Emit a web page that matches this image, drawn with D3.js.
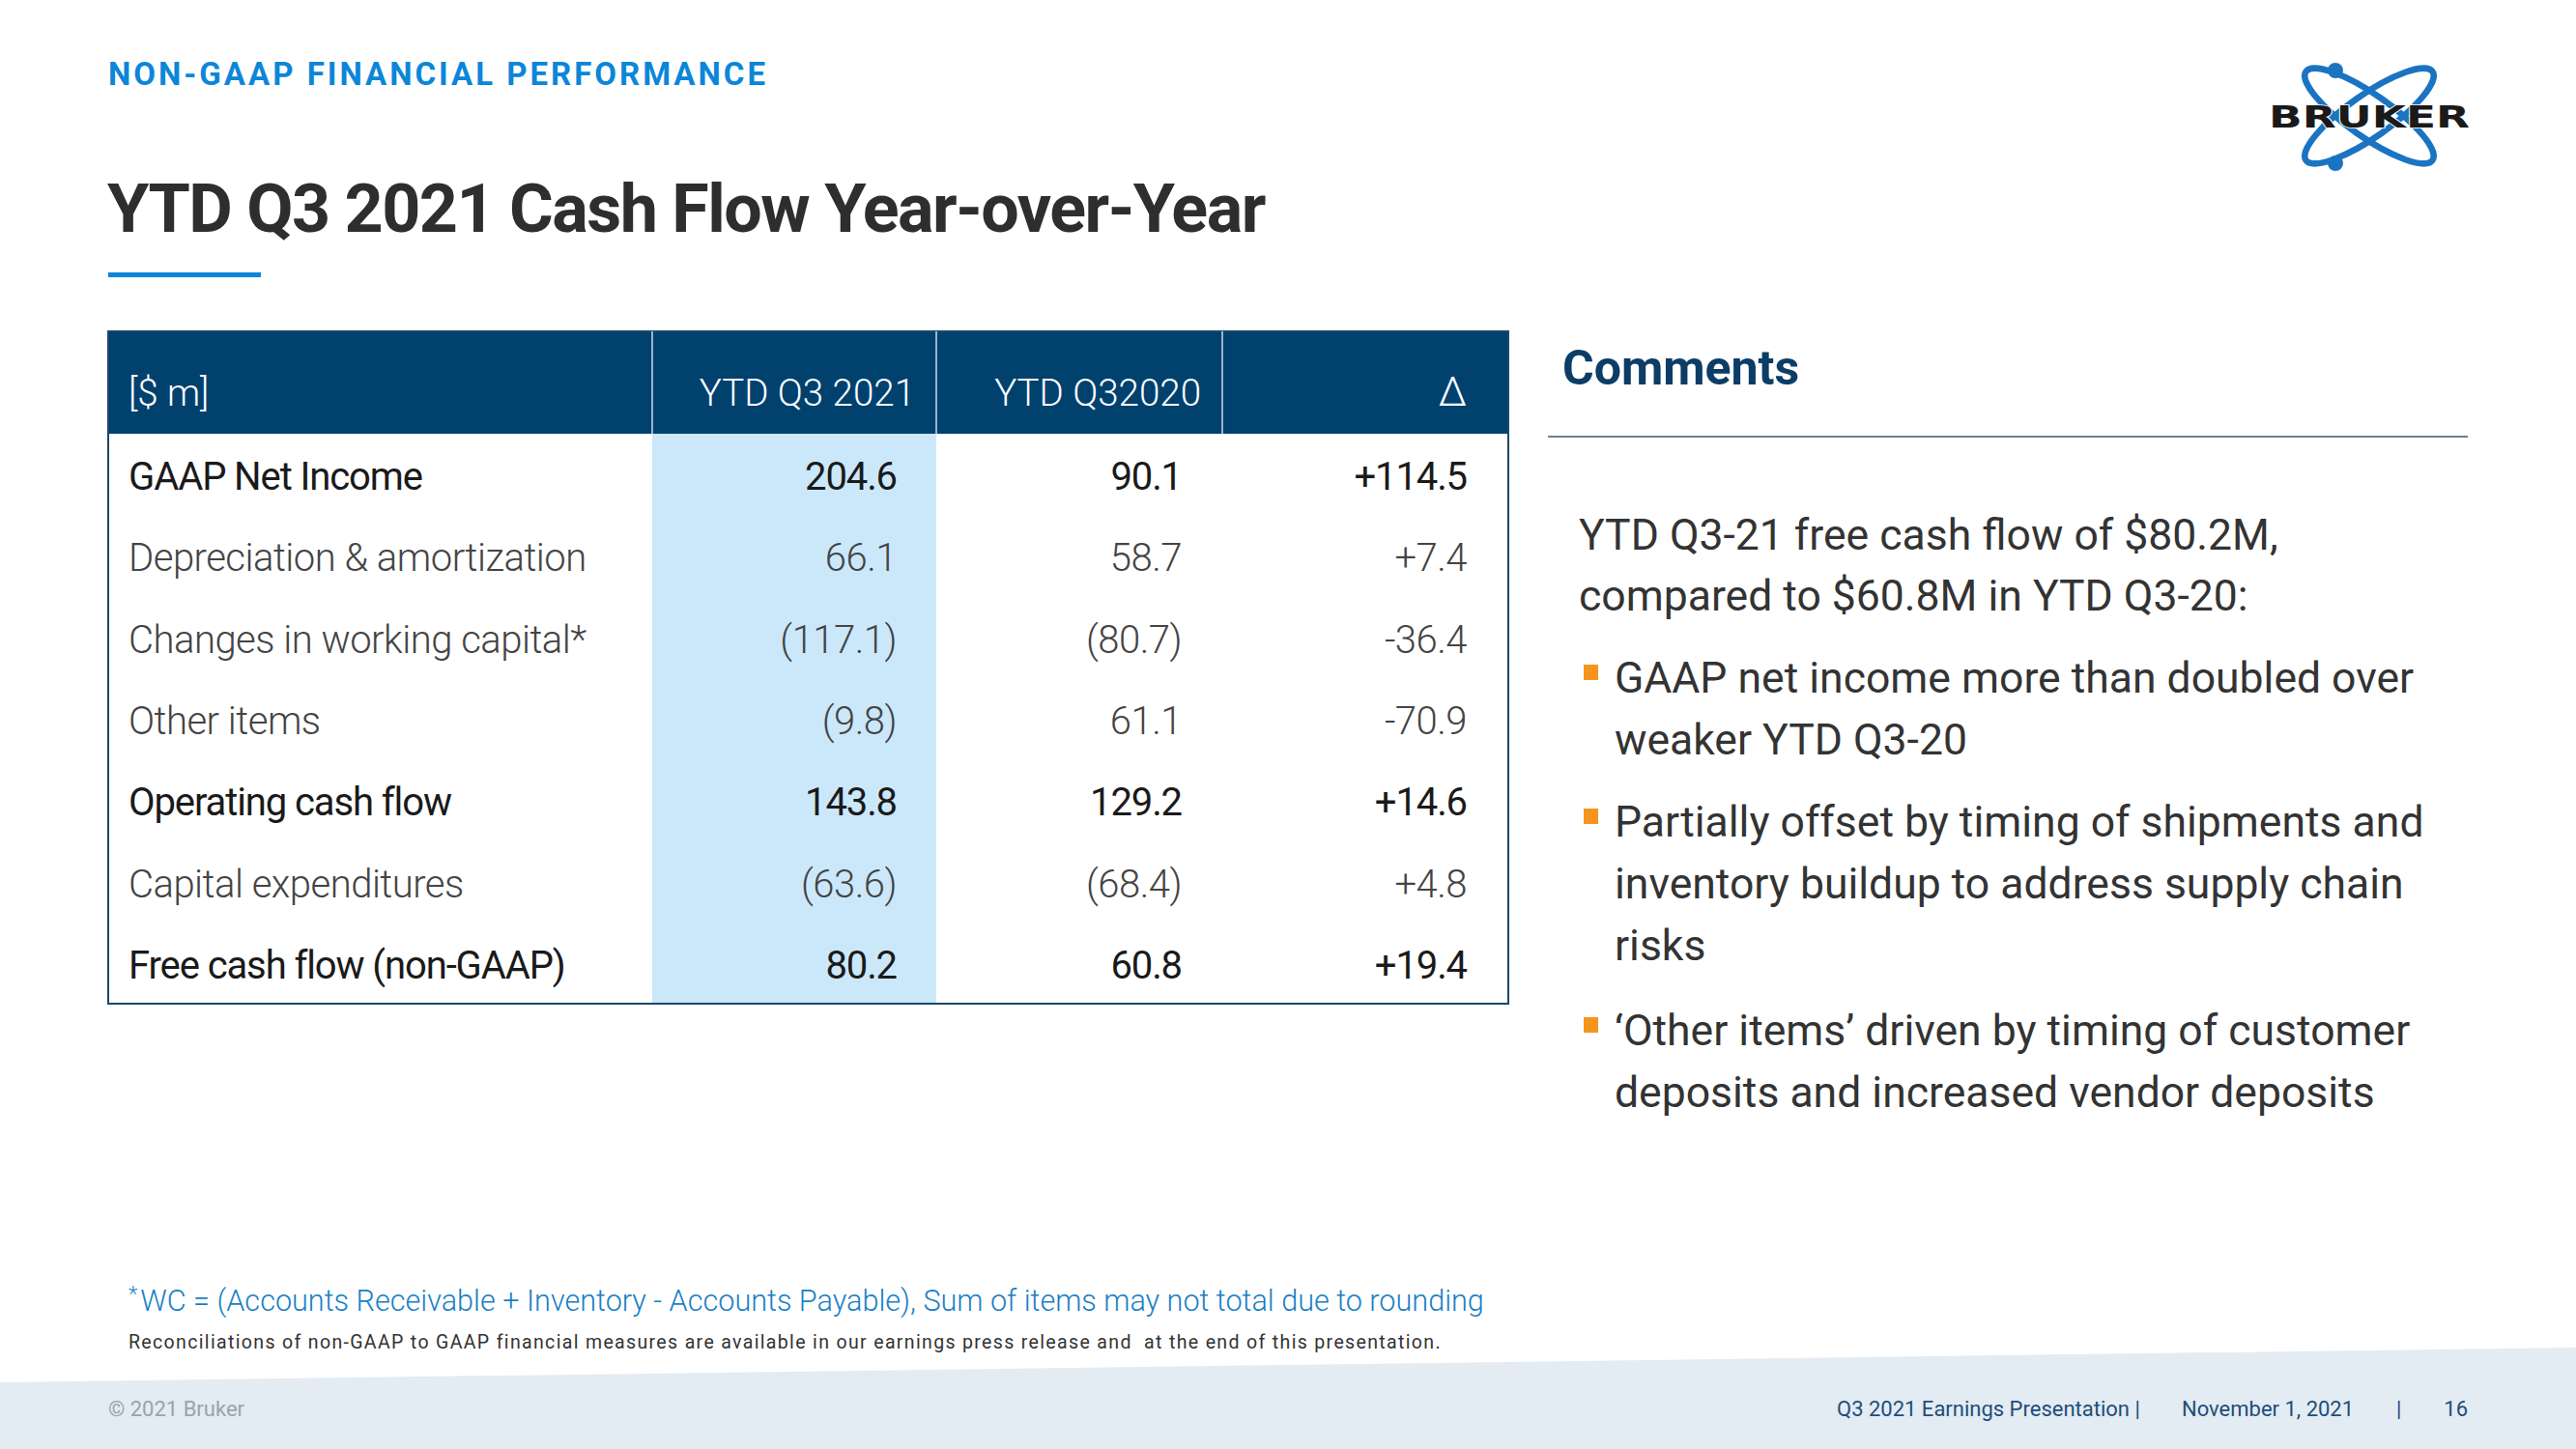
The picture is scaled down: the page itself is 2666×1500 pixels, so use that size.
<!DOCTYPE html>
<html><head><meta charset="utf-8">
<script src="https://cdn.jsdelivr.net/npm/d3@7"></script>
<style>
html,body{margin:0;padding:0;background:#fff;}
svg{display:block;font-family:Roboto,"Noto Sans",sans-serif;}
</style></head>
<body>
<svg id="c" width="2666" height="1500"></svg>
<script>
// ---------- data ----------
const columns = ["[$ m]", "YTD Q3 2021", "YTD Q32020", "\u0394"];
const rowLabels = ["GAAP Net Income", "Depreciation & amortization", "Changes in working capital*", "Other items", "Operating cash flow", "Capital expenditures", "Free cash flow (non-GAAP)"];
const ytd2021 = [204.6, 66.1, -117.1, -9.8, 143.8, -63.6, 80.2];
const ytd2020 = [90.1, 58.7, -80.7, 61.1, 129.2, -68.4, 60.8];
const delta = [114.5, 7.4, -36.4, -70.9, 14.6, 4.8, 19.4];
const boldRows = ["GAAP Net Income", "Operating cash flow", "Free cash flow (non-GAAP)"];
const commentIntro = ["YTD Q3-21 free cash flow of $80.2M,", "compared to $60.8M in YTD Q3-20:"];
const commentBullets = [
  ["GAAP net income more than doubled over", "weaker YTD Q3-20"],
  ["Partially offset by timing of shipments and", "inventory buildup to address supply chain", "risks"],
  ["\u2018Other items\u2019 driven by timing of customer", "deposits and increased vendor deposits"]
];

// ---------- drawing ----------
const svg = d3.select("#c");
const navy = "#00416e", blue = "#0b86d8", orange = "#f7941d";

// footer band
svg.append("path").attr("d", "M0,1431 L2666,1395 L2666,1500 L0,1500 Z").attr("fill", "#e3ebf3");

// headings
svg.append("text").attr("x", 112).attr("y", 88).attr("fill", blue)
  .attr("font-size", 33).attr("font-weight", 700).attr("letter-spacing", 3)
  .text("NON-GAAP FINANCIAL PERFORMANCE");
svg.append("text").attr("x", 111).attr("y", 240).attr("fill", "#2e2e2e")
  .attr("font-size", 70).attr("font-weight", 700).attr("letter-spacing", -1.5)
  .text("YTD Q3 2021 Cash Flow Year-over-Year");
svg.append("rect").attr("x", 112).attr("y", 282).attr("width", 158).attr("height", 5).attr("fill", blue);

// logo
const logo = svg.append("g").attr("transform", "translate(2452,120)");
[35, -35].forEach(a => {
  logo.append("ellipse").attr("rx", 80).attr("ry", 22).attr("fill", "none")
    .attr("stroke", "#1b74c2").attr("stroke-width", 6.5).attr("transform", `rotate(${a})`);
});
[[-35, -47], [-35, 49]].forEach(p => logo.append("circle").attr("cx", p[0]).attr("cy", p[1]).attr("r", 8).attr("fill", "#1b74c2"));
logo.append("text").attr("x", -104).attr("y", 12).attr("font-family", "DejaVu Sans").attr("font-weight", 700)
  .attr("font-size", 32).attr("textLength", 208).attr("lengthAdjust", "spacingAndGlyphs")
  .attr("fill", "#1a1a1a").attr("stroke", "#fff").attr("stroke-width", 1.5).attr("paint-order", "stroke")
  .text("BRUKER");

// table
const tLeft = 112, tRight = 1561, tTop = 343, hdrBottom = 449, tBottom = 1039;
const colEdges = [tLeft, 675, 969, 1265, tRight];
const y = d3.scaleBand().domain(rowLabels).range([hdrBottom, tBottom]);
const colX = d3.scaleOrdinal().domain(columns).range([133, 947, 1243, 1518]);
const valX = d3.scaleOrdinal().domain([0, 1, 2]).range([928, 1223, 1518]);

svg.append("rect").attr("x", tLeft).attr("y", tTop).attr("width", tRight - tLeft).attr("height", hdrBottom - tTop).attr("fill", navy);
svg.append("rect").attr("x", colEdges[1]).attr("y", hdrBottom).attr("width", colEdges[2] - colEdges[1]).attr("height", tBottom - hdrBottom).attr("fill", "#cbe8fb");
svg.append("rect").attr("x", tLeft).attr("y", tTop).attr("width", tRight - tLeft).attr("height", tBottom - tTop)
  .attr("fill", "none").attr("stroke", "#1c4866").attr("stroke-width", 2);
svg.selectAll("line.hdiv").data(colEdges.slice(1, 4)).join("line").attr("class", "hdiv")
  .attr("x1", d => d).attr("x2", d => d).attr("y1", tTop).attr("y2", hdrBottom)
  .attr("stroke", "#cfdbe6").attr("stroke-width", 1.5);

svg.selectAll("text.hdr").data(columns).join("text").attr("class", "hdr")
  .attr("x", d => colX(d)).attr("y", 420)
  .attr("text-anchor", (d, i) => i === 0 ? "start" : "end")
  .attr("fill", "#fff").attr("font-size", (d, i) => i === 3 ? 42 : 38.5).attr("font-weight", 300)
  .text(d => d);

const fmt = v => v < 0 ? `(${Math.abs(v).toFixed(1)})` : v.toFixed(1);
const fmtD = v => (v < 0 ? "-" : "+") + Math.abs(v).toFixed(1);

const rows = svg.selectAll("g.row").data(rowLabels).join("g").attr("class", "row")
  .attr("transform", d => `translate(0,${y(d) + y.bandwidth() / 2 + 16})`);
rows.each(function (d, i) {
  const g = d3.select(this);
  const b = boldRows.includes(d);
  const cells = [fmt(ytd2021[i]), fmt(ytd2020[i]), fmtD(delta[i])];
  const style = s => s.attr("fill", b ? "#1a1a1a" : "#444").attr("font-size", 40)
    .attr("font-weight", b ? 400 : 300).attr("letter-spacing", b ? -1.1 : -0.5);
  g.append("text").attr("x", 133).call(style).text(d);
  cells.forEach((c, j) => g.append("text").attr("x", valX(j)).attr("text-anchor", "end").call(style).text(c));
});

// comments
svg.append("text").attr("x", 1617).attr("y", 398).attr("fill", "#0b3d66").attr("font-size", 50).attr("font-weight", 700)
  .attr("letter-spacing", 0).text("Comments");
svg.append("line").attr("x1", 1602).attr("x2", 2554).attr("y1", 452).attr("y2", 452).attr("stroke", "#6f7f8c").attr("stroke-width", 2);

const body = s => s.attr("fill", "#333").attr("font-size", 44.5).attr("font-weight", 400);
svg.selectAll("text.intro").data(commentIntro).join("text").attr("class", "intro")
  .attr("x", 1634).attr("y", (d, i) => 569 + i * 63).call(body).text(d => d);

const bulletTop = [717, 866, 1082];
commentBullets.forEach((lines, bi) => {
  svg.append("rect").attr("x", 1639).attr("y", bulletTop[bi] - 29).attr("width", 15).attr("height", 16).attr("fill", orange);
  lines.forEach((l, li) => svg.append("text").attr("x", 1671).attr("y", bulletTop[bi] + li * 64).call(body).text(l));
});

// footnotes
const fn = svg.append("text").attr("x", 133).attr("y", 1357).attr("fill", "#1a7fc5").attr("font-size", 30.6).attr("font-weight", 300);
fn.append("tspan").attr("font-size", 22).attr("dy", -10).text("*");
fn.append("tspan").attr("dy", 10).attr("dx", 3).text("WC = (Accounts Receivable + Inventory - Accounts Payable), Sum of items may not total due to rounding");
svg.append("text").attr("x", 133).attr("y", 1396).attr("fill", "#333").attr("font-size", 19.5).attr("letter-spacing", 1.35)
  .style("white-space", "pre")
  .text("Reconciliations of non-GAAP to GAAP financial measures are available in our earnings press release and  at the end of this presentation.");

svg.append("text").attr("x", 112).attr("y", 1466).attr("fill", "#9aa3ab").attr("font-size", 22).text("\u00a9 2021 Bruker");
const ft = s => s.attr("fill", "#1f4e79").attr("font-size", 22).attr("y", 1466);
svg.append("text").attr("x", 1901).call(ft).text("Q3 2021 Earnings Presentation |");
svg.append("text").attr("x", 2258).call(ft).text("November 1, 2021");
svg.append("text").attr("x", 2480).call(ft).text("|");
svg.append("text").attr("x", 2554).attr("text-anchor", "end").call(ft).text("16");
</script>
</body></html>
